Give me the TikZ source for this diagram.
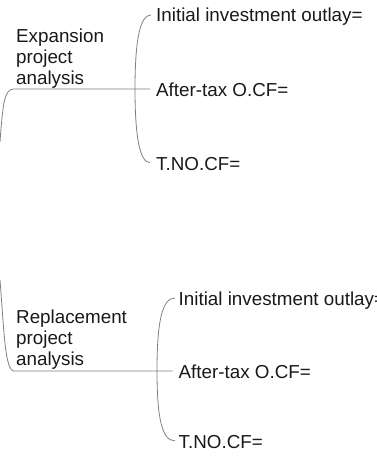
\documentclass[tikz,border=0pt]{standalone}
\usepackage{fontspec}
\setmainfont{Liberation Sans}
\usetikzlibrary{calc}
\begin{document}
\begin{tikzpicture}[x=1pt,y=-1pt,
  conn/.style={draw=black!50,line width=0.8pt},
  topic/.style={inner sep=0pt,align=left,anchor=base west,font=\fontsize{18.8}{20.8}\selectfont,text=black!90},
  leaf/.style={inner sep=0pt,anchor=base west,font=\fontsize{18.8}{20.8}\selectfont,text=black!90}]
\useasboundingbox (0,0) rectangle (377,466);
% ---------- Expansion ----------
\node[topic] (e) at (16,84) {Expansion\\project\\analysis};
\node[leaf] (e1) at (156,21.7) {Initial investment outlay=};
\node[leaf] (e2) at (156,96.7) {After-tax O.CF=};
\node[leaf] (e3) at (156,170) {T.NO.CF=};
\coordinate (rootA) at (0,142);
\coordinate (ejoin) at (135,89);
\coordinate (e1in) at ($(e1.base west)+(-5,-6.7)$);
\coordinate (e2in) at ($(e2.base west)+(-6,-7.7)$);
\coordinate (e3in) at ($(e3.base west)+(-6,-7.5)$);
\draw[conn] (rootA) .. controls (3,100) and (5,89) .. (14,89) -- (e2in);
\draw[conn] (ejoin) .. controls (135,40) and (140,15) .. (e1in);
\draw[conn] (ejoin) .. controls (135,138) and (140,162.5) .. (e3in);
% ---------- Replacement ----------
\node[topic] (r) at (16,365.5) {Replacement\\project\\analysis};
\node[leaf] (r1) at (178.5,305) {Initial investment outlay=};
\node[leaf] (r2) at (178.5,378.3) {After-tax O.CF=};
\node[leaf] (r3) at (178.5,448.3) {T.NO.CF=};
\coordinate (rootB) at (0,280);
\coordinate (rjoin) at (157,371);
\coordinate (r1in) at ($(r1.base west)+(-3.5,-7)$);
\coordinate (r2in) at ($(r2.base west)+(-6,-7.3)$);
\coordinate (r3in) at ($(r3.base west)+(-3.5,-7.5)$);
\draw[conn] (rootB) .. controls (4,330) and (5,371) .. (14,371) -- (r2in);
\draw[conn] (rjoin) .. controls (157,322) and (162,298) .. (r1in);
\draw[conn] (rjoin) .. controls (157,418) and (162,441) .. (r3in);
\end{tikzpicture}
\end{document}
